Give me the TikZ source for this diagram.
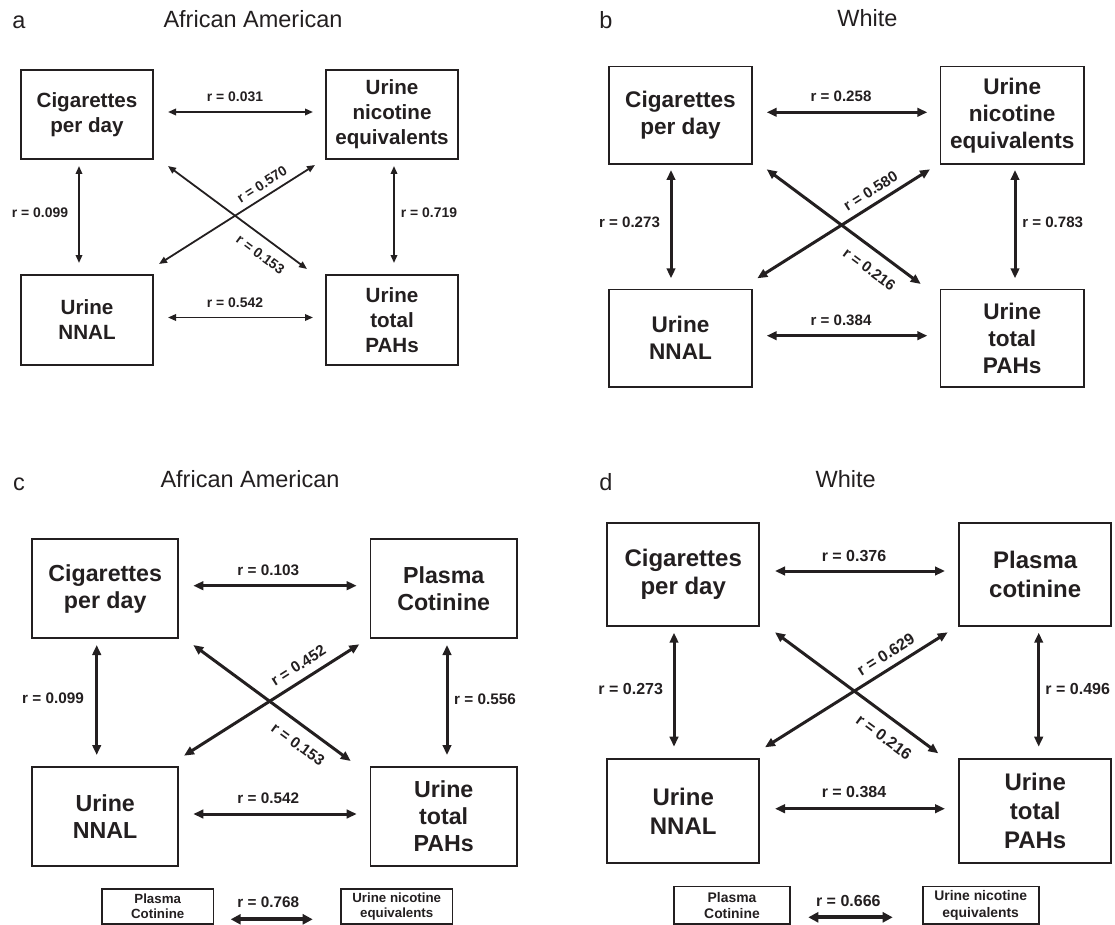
\documentclass[tikz,border=0pt]{standalone}
\usepackage{fontspec}
\setmainfont{Liberation Sans}
\usetikzlibrary{arrows.meta}
\definecolor{ink}{RGB}{35,31,32}
\tikzset{
  box/.style={draw=ink, text=ink, inner sep=0pt, align=center},
  boxA/.style={box, line width=1.5pt, minimum width=132pt, minimum height=89pt,
    font=\fontsize{20.6pt}{25pt}\selectfont\bfseries},
  boxB/.style={box, line width=1.8pt, minimum width=143.6pt, minimum height=97.5pt,
    font=\fontsize{22.6pt}{27pt}\selectfont\bfseries},
  boxC/.style={box, line width=1.8pt, minimum width=146.3pt, minimum height=99.3pt,
    font=\fontsize{23.2pt}{27.3pt}\selectfont\bfseries},
  boxD/.style={box, line width=1.8pt, minimum width=152.3pt, minimum height=103.4pt,
    font=\fontsize{24pt}{28.7pt}\selectfont\bfseries},
  sboxC/.style={box, line width=1.6pt, minimum width=111.4pt, minimum height=35pt,
    font=\fontsize{13.3pt}{15.4pt}\selectfont\bfseries},
  sboxD/.style={box, line width=1.6pt, minimum width=116pt, minimum height=37.3pt,
    font=\fontsize{13.9pt}{16.5pt}\selectfont\bfseries},
  rA/.style={text=ink, inner sep=0pt, font=\fontsize{13.9pt}{16pt}\selectfont\bfseries},
  rB/.style={text=ink, inner sep=0pt, font=\fontsize{15.1pt}{17pt}\selectfont\bfseries},
  rC/.style={text=ink, inner sep=0pt, font=\fontsize{15.3pt}{17pt}\selectfont\bfseries},
  rD/.style={text=ink, inner sep=0pt, font=\fontsize{16pt}{18pt}\selectfont\bfseries},
  ttl/.style={text=ink, inner sep=0pt, anchor=base, font=\fontsize{23.5pt}{27pt}\selectfont},
  arrA/.style={draw=ink, line width=1.8pt, {Triangle[length=8pt,width=6.5pt]}-{Triangle[length=8pt,width=6.5pt]}},
  arrB/.style={draw=ink, line width=3pt, {Triangle[length=10pt,width=8.5pt]}-{Triangle[length=10pt,width=8.5pt]}},
  arrS/.style={draw=ink, line width=3.8pt, {Triangle[length=10pt,width=10pt]}-{Triangle[length=10pt,width=10pt]}},
}
\begin{document}
\begin{tikzpicture}[x=1pt,y=-1pt]
\useasboundingbox (0,0) rectangle (1115,925);

% ---------------- panel a ----------------
\node[ttl] (ta) at (18.8,29) {a};
\node[ttl] (tta) at (253,27.5) {African American};
\node[boxA] (a1) at (87,114.5) {Cigarettes\\per day};
\node[boxA] (a2) at (392,114.5) {Urine\\nicotine\\equivalents};
\node[boxA, minimum height=90pt] (a3) at (87,320) {Urine\\NNAL};
\node[boxA, minimum height=90pt] (a4) at (392,320) {Urine\\total\\PAHs};
\coordinate (a12s) at (168,112); \coordinate (a12e) at (313,112);
\coordinate (a34s) at (168,317.5); \coordinate (a34e) at (313,317.5);
\coordinate (a13s) at (79,166); \coordinate (a13e) at (79,263);
\coordinate (a24s) at (394,166); \coordinate (a24e) at (394,263);
\coordinate (a14s) at (168,166); \coordinate (a14e) at (307,269);
\coordinate (a32s) at (159,264); \coordinate (a32e) at (315,165);
\draw[arrA] (a12s) -- (a12e);
\draw[arrA] (a34s) -- (a34e);
\draw[arrA] (a13s) -- (a13e);
\draw[arrA] (a24s) -- (a24e);
\draw[arrA] (a14s) -- (a14e);
\draw[arrA] (a32s) -- (a32e);
\node[rA] (la12) at (235,97) {r = 0.031};
\node[rA] (la34) at (235,303) {r = 0.542};
\node[rA] (la13) at (40,213) {r = 0.099};
\node[rA] (la24) at (429,213) {r = 0.719};
\node[rA, rotate=-36.5] (la14) at (260.5,254.5) {r = 0.153};
\node[rA, rotate=32.4] (la32) at (262,184.5) {r = 0.570};

% ---------------- panel b ----------------
\node[ttl] (tb) at (606,28.3) {b};
\node[ttl] (ttb) at (867.5,26.7) {White};
\node[boxB] (b1) at (680.5,115.3) {Cigarettes\\per day};
\node[boxB] (b2) at (1012.2,115.3) {Urine\\nicotine\\equivalents};
\node[boxB] (b3) at (680.5,338.3) {Urine\\NNAL};
\node[boxB] (b4) at (1012.2,338.3) {Urine\\total\\PAHs};
\coordinate (b12s) at (766.7,112.3); \coordinate (b12e) at (927.3,112.3);
\coordinate (b34s) at (766.7,335.7); \coordinate (b34e) at (927.3,335.7);
\coordinate (b13s) at (671,170); \coordinate (b13e) at (671,278.3);
\coordinate (b24s) at (1015,170); \coordinate (b24e) at (1015,278.3);
\coordinate (b14s) at (766.7,169.3); \coordinate (b14e) at (920.7,284);
\coordinate (b32s) at (757.3,278.3); \coordinate (b32e) at (930,169.3);
\draw[arrB] (b12s) -- (b12e);
\draw[arrB] (b34s) -- (b34e);
\draw[arrB] (b13s) -- (b13e);
\draw[arrB] (b24s) -- (b24e);
\draw[arrB] (b14s) -- (b14e);
\draw[arrB] (b32s) -- (b32e);
\node[rB] (lb12) at (841,96.7) {r = 0.258};
\node[rB] (lb34) at (841,320) {r = 0.384};
\node[rB] (lb13) at (629.5,222.7) {r = 0.273};
\node[rB] (lb24) at (1052.7,222.7) {r = 0.783};
\node[rB, rotate=-36.6] (lb14) at (869.3,269) {r = 0.216};
\node[rB, rotate=32.3] (lb32) at (870.5,191) {r = 0.580};

% ---------------- panel c ----------------
\node[ttl] (tc) at (19,490.7) {c};
\node[ttl] (ttc) at (250,487.3) {African American};
\node[boxC] (c1) at (105.2,588.7) {Cigarettes\\per day};
\node[boxC] (c2) at (443.7,588.7) {Plasma\\Cotinine};
\node[boxC] (c3) at (105.2,816.3) {Urine\\NNAL};
\node[boxC] (c4) at (443.7,816.3) {Urine\\total\\PAHs};
\coordinate (c12s) at (193.3,585.7); \coordinate (c12e) at (356.7,585.7);
\coordinate (c34s) at (193.3,814); \coordinate (c34e) at (356.7,814);
\coordinate (c13s) at (96.7,645); \coordinate (c13e) at (96.7,755);
\coordinate (c24s) at (447,645); \coordinate (c24e) at (447,755);
\coordinate (c14s) at (193.3,645); \coordinate (c14e) at (350.7,761);
\coordinate (c32s) at (184,755.7); \coordinate (c32e) at (359.3,644.3);
\draw[arrB] (c12s) -- (c12e);
\draw[arrB] (c34s) -- (c34e);
\draw[arrB] (c13s) -- (c13e);
\draw[arrB] (c24s) -- (c24e);
\draw[arrB] (c14s) -- (c14e);
\draw[arrB] (c32s) -- (c32e);
\node[rC] (lc12) at (268.3,570) {r = 0.103};
\node[rC] (lc34) at (268.3,798.3) {r = 0.542};
\node[rC] (lc13) at (53,698.7) {r = 0.099};
\node[rC] (lc24) at (485,699.3) {r = 0.556};
\node[rC, rotate=-36.4] (lc14) at (298,744.5) {r = 0.153};
\node[rC, rotate=32.4] (lc32) at (298.3,665.5) {r = 0.452};
\node[sboxC] (c5) at (157.7,906.5) {Plasma\\Cotinine};
\node[sboxC] (c6) at (396.7,906.5) {Urine nicotine\\equivalents};
\coordinate (c56s) at (230.7,919.3); \coordinate (c56e) at (312.7,919.3);
\draw[arrS] (c56s) -- (c56e);
\node[rC] (lc56) at (268.3,902.7) {r = 0.768};

% ---------------- panel d ----------------
\node[ttl] (td) at (606,490.7) {d};
\node[ttl] (ttd) at (845.7,487.3) {White};
\node[boxD] (d1) at (683.2,574.3) {Cigarettes\\per day};
\node[boxD] (d2) at (1035.2,574.3) {Plasma\\cotinine};
\node[boxD] (d3) at (683.2,811) {Urine\\NNAL};
\node[boxD] (d4) at (1035.2,811) {Urine\\total\\PAHs};
\coordinate (d12s) at (775,571); \coordinate (d12e) at (945,571);
\coordinate (d34s) at (775,808.7); \coordinate (d34e) at (945,808.7);
\coordinate (d13s) at (674,632.7); \coordinate (d13e) at (674,746.7);
\coordinate (d24s) at (1038.7,632.7); \coordinate (d24e) at (1038.7,746.7);
\coordinate (d14s) at (775,632.3); \coordinate (d14e) at (938.3,753.3);
\coordinate (d32s) at (765,747.3); \coordinate (d32e) at (947.7,632.3);
\draw[arrB] (d12s) -- (d12e);
\draw[arrB] (d34s) -- (d34e);
\draw[arrB] (d13s) -- (d13e);
\draw[arrB] (d24s) -- (d24e);
\draw[arrB] (d14s) -- (d14e);
\draw[arrB] (d32s) -- (d32e);
\node[rD] (ld12) at (854,555.7) {r = 0.376};
\node[rD] (ld34) at (854,791.7) {r = 0.384};
\node[rD] (ld13) at (630.7,688.7) {r = 0.273};
\node[rD] (ld24) at (1077.7,688.7) {r = 0.496};
\node[rD, rotate=-36.5] (ld14) at (884,737) {r = 0.216};
\node[rD, rotate=32.2] (ld32) at (885.7,654.5) {r = 0.629};
\node[sboxD] (d5) at (732,905.3) {Plasma\\Cotinine};
\node[sboxD] (d6) at (980.7,905.3) {Urine nicotine\\equivalents};
\coordinate (d56s) at (808.3,917.3); \coordinate (d56e) at (892.7,917.3);
\draw[arrS] (d56s) -- (d56e);
\node[rD] (ld56) at (848.3,901) {r = 0.666};
\end{tikzpicture}
\end{document}
